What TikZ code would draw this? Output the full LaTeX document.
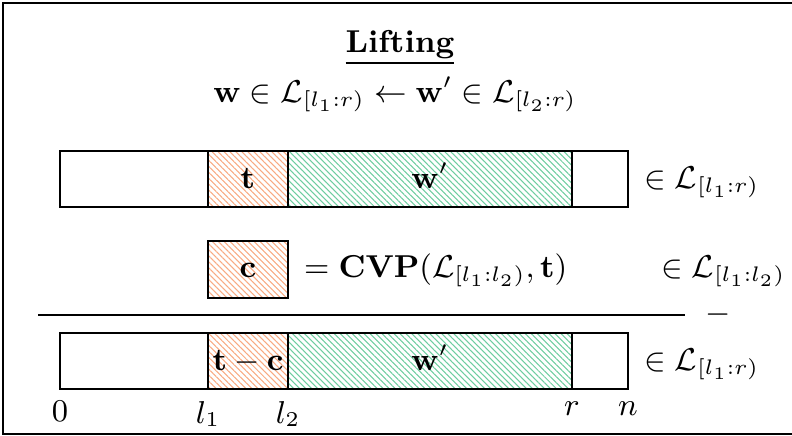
\documentclass[tikz,border=0pt]{standalone}
\usepackage{amsmath,amssymb,bm}
\usepackage{tikz}
\usetikzlibrary{patterns.meta}

\definecolor{hatchorange}{RGB}{248,170,130}
\definecolor{hatchgreen}{RGB}{110,205,160}

\begin{document}
\begin{tikzpicture}[
    x=0.01cm, y=-0.01cm,
    every node/.style={font=\small},
    seg/.style={draw, line width=0.5pt},
    hatcho/.style={pattern={Lines[angle=-45,distance=1.2pt,line width=0.3pt]},
                   pattern color=hatchorange},
    hatchg/.style={pattern={Lines[angle=-45,distance=1.2pt,line width=0.3pt]},
                   pattern color=hatchgreen},
    txt/.style={anchor=base, inner sep=1pt},
    memb/.style={anchor=base west, inner sep=1pt},
]
\useasboundingbox (0,0) rectangle (792,435);
\draw (3,3) rectangle (800,434);
% --- title ------------------------------------------------------------------
\node[txt] (title) at (400,52) {\underline{\textbf{Lifting}}};
\node[txt] (goal)  at (395,102)
  {$\mathbf{w}\in\mathcal{L}_{[l_1:r)}\leftarrow\mathbf{w}'\in\mathcal{L}_{[l_2:r)}$};
% --- top bar: (t, w') -------------------------------------------------------
\draw[seg, hatcho] (208,151) rectangle (288,207);
\draw[seg, hatchg] (288,151) rectangle (572,207);
\draw[seg] (60,151) rectangle (628,207);
\node[txt]  (t)    at (248,188) {$\mathbf{t}$};
\node[txt]  (wp)   at (430,188) {$\mathbf{w}'$};
\node[memb] (memt) at (640,188) {$\in\mathcal{L}_{[l_1:r)}$};
% --- closest vector ----------------------------------------------------------
\draw[seg, hatcho] (208,241) rectangle (288,298);
\node[txt]  (c)    at (248,277) {$\mathbf{c}$};
\node[memb] (cvp)  at (300,277) {$=\mathbf{CVP}(\mathcal{L}_{[l_1:l_2)},\mathbf{t})$};
\node[memb] (memc) at (657,277) {$\in\mathcal{L}_{[l_1:l_2)}$};
% --- subtraction -------------------------------------------------------------
\coordinate (ruleL) at (38,315);
\coordinate (ruleR) at (685,315);
\draw (ruleL) -- (ruleR);
\node (minus) at (718,315) {$-$};
% --- bottom bar: (t-c, w') ---------------------------------------------------
\draw[seg, hatcho] (208,333) rectangle (288,389);
\draw[seg, hatchg] (288,333) rectangle (572,389);
\draw[seg] (60,333) rectangle (628,389);
\node[txt]  (tc)   at (248,370) {$\mathbf{t}-\mathbf{c}$};
\node[txt]  (wpb)  at (430,370) {$\mathbf{w}'$};
\node[memb] (memb) at (640,370) {$\in\mathcal{L}_{[l_1:r)}$};
% --- indices -----------------------------------------------------------------
\coordinate (p0) at (60,389);
\coordinate (pl1) at (208,389);
\coordinate (pl2) at (288,389);
\coordinate (pr) at (572,389);
\coordinate (pn) at (628,389);
\node[below] (i0)  at (p0)  {$0$};
\node[below] (il1) at (pl1) {$l_1$};
\node[below] (il2) at (pl2) {$l_2$};
\node[below] (ir)  at (pr)  {$r$};
\node[below] (in)  at (pn)  {$n$};
\end{tikzpicture}
\end{document}
